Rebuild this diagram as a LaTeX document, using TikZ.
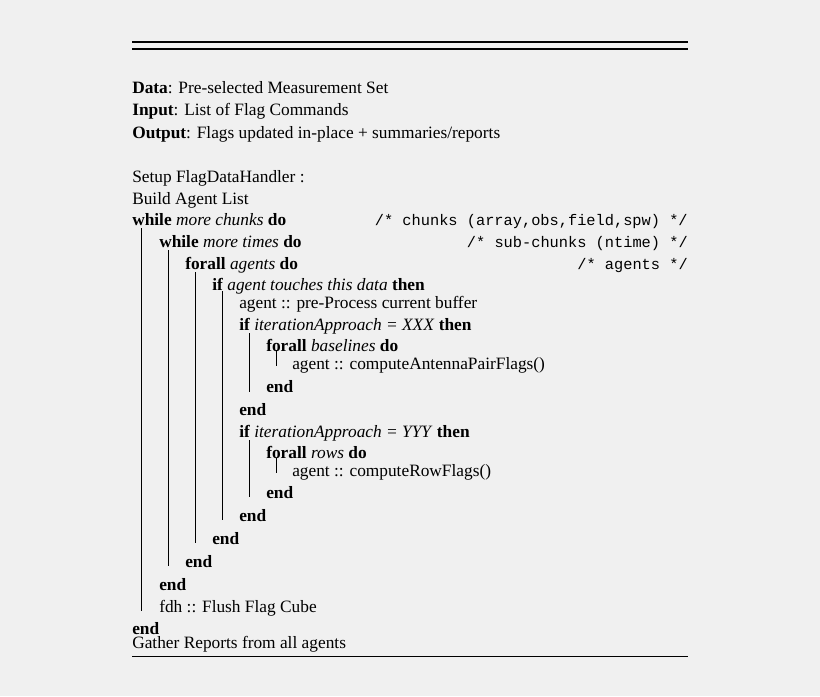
\documentclass[tikz,border=0pt]{standalone}
\usepackage{fontspec}
\setmainfont{Liberation Serif}
\setmonofont{Liberation Mono}
\begin{document}
\begin{tikzpicture}[x=0.75pt,y=-0.75pt,
 ln/.style={anchor=base west,inner sep=0pt,font=\fontsize{13}{15}\selectfont},
 cmt/.style={anchor=base east,inner sep=0pt,font=\fontsize{11.5}{15}\ttfamily},
 bar/.style={line width=0.7pt}]
\fill[black!6] (0,0) rectangle (820,696);
\useasboundingbox (0,0) rectangle (820,696);
\draw[line width=1.6pt] (132,42) -- (688,42);
\draw[line width=1.6pt] (132,49) -- (688,49);
\node[ln] (l1) at (132,93) {\textbf{Data}: Pre-selected Measurement Set};
\node[ln] (l2) at (132,115) {\textbf{Input}: List of Flag Commands};
\node[ln] (l3) at (132,138) {\textbf{Output}: Flags updated in-place + summaries/reports};
\node[ln] (l4) at (132,182) {Setup FlagDataHandler :};
\node[ln] (l5) at (132,204) {Build Agent List};
\node[ln] (l6) at (132,225) {\textbf{while} \textit{more chunks} \textbf{do}};
\node[cmt] (c6) at (688,225) {/* chunks (array,obs,field,spw) */};
\node[ln] (l7) at (159,247) {\textbf{while} \textit{more times} \textbf{do}};
\node[cmt] (c7) at (688,247) {/* sub-chunks (ntime) */};
\node[ln] (l8) at (185,269) {\textbf{forall} \textit{agents} \textbf{do}};
\node[cmt] (c8) at (688,269) {/* agents */};
\node[ln] (l9) at (212,290) {\textbf{if} \textit{agent touches this data} \textbf{then}};
\node[ln] (l10) at (239,308) {agent :: pre-Process current buffer};
\node[ln] (l11) at (239,330) {\textbf{if} \textit{iterationApproach = XXX} \textbf{then}};
\node[ln] (l12) at (266,351) {\textbf{forall} \textit{baselines} \textbf{do}};
\node[ln] (l13) at (292,369) {agent :: computeAntennaPairFlags()};
\node[ln] (l14) at (266,392) {\textbf{end}};
\node[ln] (l15) at (239,415) {\textbf{end}};
\node[ln] (l16) at (239,437) {\textbf{if} \textit{iterationApproach = YYY} \textbf{then}};
\node[ln] (l17) at (266,458) {\textbf{forall} \textit{rows} \textbf{do}};
\node[ln] (l18) at (292,476) {agent :: computeRowFlags()};
\node[ln] (l19) at (266,498) {\textbf{end}};
\node[ln] (l20) at (239,521) {\textbf{end}};
\node[ln] (l21) at (212,544) {\textbf{end}};
\node[ln] (l22) at (185,567) {\textbf{end}};
\node[ln] (l23) at (159,590) {\textbf{end}};
\node[ln] (l24) at (159,612) {fdh :: Flush Flag Cube};
\node[ln] (l25) at (132,634) {\textbf{end}};
\node[ln] (l26) at (132,648) {Gather Reports from all agents};
\draw[line width=0.6pt] (132,656) -- (688,656);
\draw[bar] (141,228) -- (141,611);
\draw[bar] (168,250) -- (168,566);
\draw[bar] (195,272) -- (195,543);
\draw[bar] (222,291) -- (222,520);
\draw[bar] (249,333) -- (249,392);
\draw[bar] (249,440) -- (249,497);
\draw[bar] (276,350) -- (276,366);
\draw[bar] (276,458) -- (276,473);
\end{tikzpicture}
\end{document}
